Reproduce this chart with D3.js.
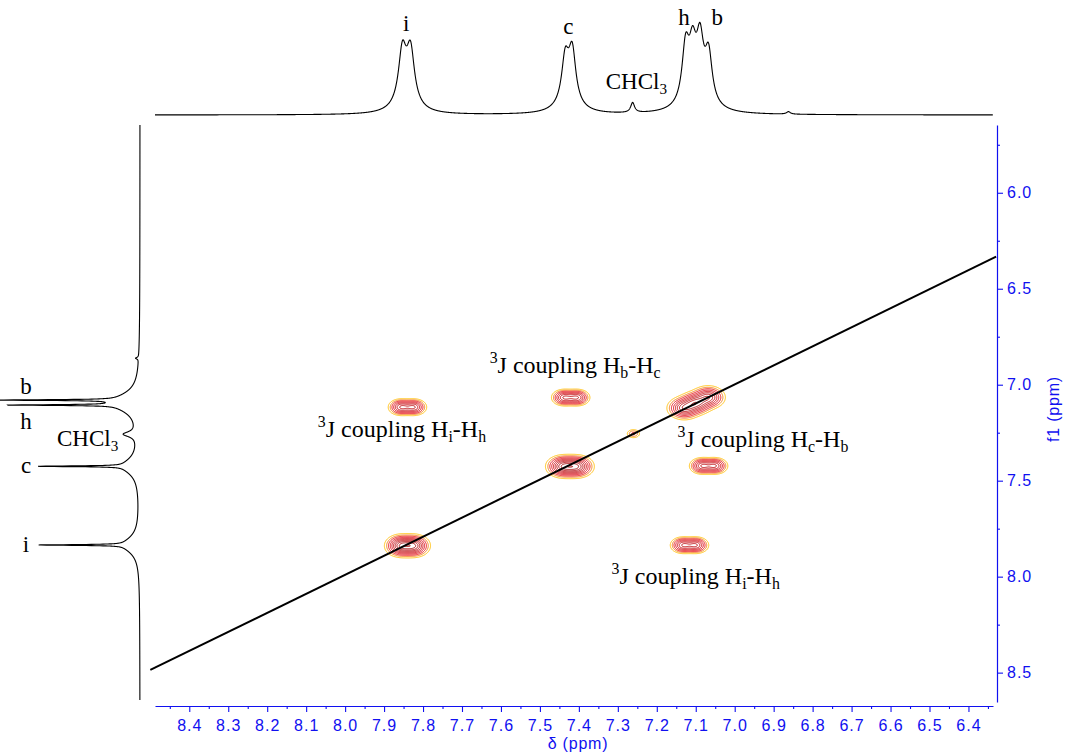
<!DOCTYPE html>
<html>
<head>
<meta charset="utf-8">
<script src="https://cdn.jsdelivr.net/npm/d3@7"></script>
<style>
  body { margin: 0; background: #fff; }
  svg { display: block; }
</style>
</head>
<body>
<svg id="chart" width="1065" height="756"></svg>
<script>
// ---- axis ranges and tick labels (ppm) ----
const f2Domain = [8.488, 6.337];
const f1Domain = [5.647, 8.653];
const f2Ticks = [8.4, 8.3, 8.2, 8.1, 8.0, 7.9, 7.8, 7.7, 7.6, 7.5, 7.4, 7.3, 7.2, 7.1, 7.0, 6.9, 6.8, 6.7, 6.6, 6.5, 6.4];
const f1Ticks = [6.0, 6.5, 7.0, 7.5, 8.0, 8.5];

// ---- 1D projection along f2 (top trace): [shift ppm, height, half-width ppm] ----
const topPeaks = [
  [7.853, 52, 0.012], [7.832, 52, 0.012], [7.843, 10, 0.035],   // i
  [7.435, 44, 0.011], [7.417, 51, 0.011], [7.426, 10, 0.035],   // c
  [7.262, 10, 0.006],                                           // CHCl3
  [7.126, 55, 0.011], [7.108, 46, 0.011],                       // h
  [7.089, 55, 0.011], [7.067, 48, 0.011], [7.097, 12, 0.04],    // b
  [6.862, 2.5, 0.006]
];

// ---- 1D projection along f1 (left trace): [shift ppm, height, half-width ppm] ----
const sidePeaks = [
  [7.835, 85, 0.0025], [7.835, 16, 0.05],              // i
  [7.425, 85, 0.0025], [7.425, 16, 0.05],              // c
  [7.258, 13, 0.016],                                  // CHCl3
  [7.106, 106, 0.0025], [7.106, 14, 0.05],             // h
  [7.080, 116, 0.0025], [7.080, 14, 0.05],             // b
  [6.862, 3, 0.005]
];

// ---- COSY multiplet components: [f2 ppm, f1 ppm, intensity, sigma f2, sigma f1] ----
const peaks2D = [
  // diagonal i
  [7.856, 7.829, 0.28, 0.017, 0.022], [7.824, 7.829, 0.28, 0.017, 0.022],
  [7.856, 7.849, 0.28, 0.017, 0.022], [7.824, 7.849, 0.28, 0.017, 0.022],
  // diagonal c
  [7.440, 7.416, 0.28, 0.018, 0.022], [7.406, 7.416, 0.28, 0.018, 0.022],
  [7.440, 7.436, 0.28, 0.018, 0.022], [7.406, 7.436, 0.28, 0.018, 0.022],
  // diagonal CHCl3
  [7.260, 7.255, 0.09, 0.009, 0.012],
  // diagonal h / b
  [7.130, 7.122, 0.40, 0.018, 0.025], [7.100, 7.096, 0.44, 0.018, 0.025], [7.068, 7.066, 0.40, 0.018, 0.025],
  // cross i-h
  [7.856, 7.108, 0.2, 0.014, 0.016], [7.824, 7.108, 0.2, 0.014, 0.016],
  [7.856, 7.126, 0.2, 0.014, 0.016], [7.824, 7.126, 0.2, 0.014, 0.016],
  // cross c-b
  [7.437, 7.058, 0.2, 0.014, 0.016], [7.405, 7.058, 0.2, 0.014, 0.016],
  [7.437, 7.076, 0.2, 0.014, 0.016], [7.405, 7.076, 0.2, 0.014, 0.016],
  // cross b-c
  [7.083, 7.414, 0.2, 0.014, 0.016], [7.051, 7.414, 0.2, 0.014, 0.016],
  [7.083, 7.432, 0.2, 0.014, 0.016], [7.051, 7.432, 0.2, 0.014, 0.016],
  // cross h-i
  [7.132, 7.827, 0.2, 0.014, 0.016], [7.100, 7.827, 0.2, 0.014, 0.016],
  [7.132, 7.845, 0.2, 0.014, 0.016], [7.100, 7.845, 0.2, 0.014, 0.016]
];
const contourLevels = [0.02, 0.045, 0.08, 0.13, 0.19, 0.26, 0.34, 0.43, 0.53, 0.64];

// diagonal reference line, [f2, f1] end points
const diagonalEnds = [[8.500, 8.486], [6.329, 6.333]];

// peak labels of the 1D traces
const topLabels = [
  { parts: [["i"]], f2: 7.843, anchor: "middle" },
  { parts: [["c"]], f2: 7.427, anchor: "middle" },
  { parts: [["CHCl"], ["3", "sub"]], f2: 7.331, anchor: "start" },
  { parts: [["h"]], f2: 7.130, anchor: "middle" },
  { parts: [["b"]], f2: 7.045, anchor: "middle" }
];
const sideLabels = [
  { parts: [["b"]], f1: 7.05 },
  { parts: [["h"]], f1: 7.23 },
  { parts: [["CHCl"], ["3", "sub"]], f1: 7.32 },
  { parts: [["c"]], f1: 7.46 },
  { parts: [["i"]], f1: 7.87 }
];
// coupling annotations, anchored at [f2, f1] ppm (text start, baseline)
const annotations = [
  { parts: [["3", "sup"], ["J coupling H"], ["b", "sub"], ["-H"], ["c", "sub"]], at: [7.629, 6.939] },
  { parts: [["3", "sup"], ["J coupling H"], ["i", "sub"], ["-H"], ["h", "sub"]], at: [8.070, 7.272] },
  { parts: [["3", "sup"], ["J coupling H"], ["c", "sub"], ["-H"], ["b", "sub"]], at: [7.147, 7.325] },
  { parts: [["3", "sup"], ["J coupling H"], ["i", "sub"], ["-H"], ["h", "sub"]], at: [7.316, 8.038] }
];

// ---------------------------------------------------------------
const svg = d3.select("#chart");
const blue = "#1010f0";
const serif = "'Liberation Serif', 'Times New Roman', serif";
const sans = "'Liberation Sans', Arial, sans-serif";

const x = d3.scaleLinear().domain(f2Domain).range([155, 993]);
const y = d3.scaleLinear().domain(f1Domain).range([125, 702]);

// intensity scales of the projections
const topI = d3.scaleLinear().domain([0, 100]).range([115, 15]);
const sideI = d3.scaleLinear().domain([0, 100]).range([140, 40]);

const lorentz = (peaks, v) => d3.sum(peaks, p => p[1] * p[2] * p[2] / ((v - p[0]) * (v - p[0]) + p[2] * p[2]));

// ---- top projection ----
const topPts = d3.range(f2Domain[0], f2Domain[1], -0.0005).map(v => [x(v), topI(lorentz(topPeaks, v))]);
svg.append("path")
  .attr("d", d3.line()(topPts))
  .attr("fill", "none").attr("stroke", "#000").attr("stroke-width", 1.1);

// ---- left projection ----
const sideRange = [y.invert(125), y.invert(700)];
const sidePts = d3.range(sideRange[0], sideRange[1], 0.0004).map(v => [sideI(lorentz(sidePeaks, v)), y(v)]);
svg.append("path")
  .attr("d", d3.line()(sidePts))
  .attr("fill", "none").attr("stroke", "#000").attr("stroke-width", 1.1);

// ---- contour map ----
const gridF2 = [6.9, 8.0], gridF1 = [6.9, 8.0];
const n2 = 800, n1 = 400;
const s2 = (gridF2[1] - gridF2[0]) / n2, s1 = (gridF1[1] - gridF1[0]) / n1;
const values = new Float64Array(n2 * n1);
for (let j = 0; j < n1; j++) {
  const fv1 = gridF1[0] + (j + 0.5) * s1;
  for (let i = 0; i < n2; i++) {
    const fv2 = gridF2[0] + (i + 0.5) * s2;
    let v = 0;
    for (const p of peaks2D) {
      const a = (fv2 - p[0]) / p[3], b = (fv1 - p[1]) / p[4];
      const e = 0.5 * (a * a + b * b);
      if (e < 14) v += p[2] * Math.exp(-e);
    }
    values[j * n2 + i] = v;
  }
}
const contours = d3.contours().size([n2, n1]).thresholds(contourLevels)(values);
const toPage = d3.geoTransform({
  point(px, py) { this.stream.point(x(gridF2[0] + px * s2), y(gridF1[0] + py * s1)); }
});
const contourPath = d3.geoPath(toPage);
function levelColor(i) {
  if (i === 0) return "#ffc20f";
  if (i === 1) return "#f5821f";
  const t = (i - 2) / (contourLevels.length - 3);
  return d3.interpolateRgb("#e8141e", "#a01010")(t);
}
svg.append("g").selectAll("path")
  .data(contours)
  .join("path")
  .attr("d", contourPath)
  .attr("fill", "none")
  .attr("stroke", (d, i) => levelColor(i))
  .attr("stroke-width", 1);

// ---- diagonal ----
svg.append("line")
  .attr("x1", x(diagonalEnds[0][0])).attr("y1", y(diagonalEnds[0][1]))
  .attr("x2", x(diagonalEnds[1][0])).attr("y2", y(diagonalEnds[1][1]))
  .attr("stroke", "#000").attr("stroke-width", 2);

// ---- axes ----
const xAxis = svg.append("g").attr("transform", "translate(0,706)");
xAxis.call(d3.axisBottom(x).tickValues(f2Ticks).tickSize(6).tickSizeOuter(0).tickPadding(8).tickFormat(d3.format(".1f")));
xAxis.append("g").call(d3.axisBottom(x).tickValues(d3.range(8.45, 6.34, -0.1)).tickSize(3).tickFormat(""))
  .select(".domain").remove();
const yAxis = svg.append("g").attr("transform", "translate(997,0)");
yAxis.call(d3.axisRight(y).tickValues(f1Ticks).tickSize(6).tickSizeOuter(0).tickPadding(4).tickFormat(d3.format(".1f")));
yAxis.append("g").call(d3.axisRight(y).tickValues(d3.range(5.75, 8.6, 0.5)).tickSize(3).tickFormat(""))
  .select(".domain").remove();
svg.selectAll(".domain").attr("stroke", blue).attr("stroke-width", 1.2);
svg.selectAll(".tick line").attr("stroke", blue).attr("stroke-width", 1.1);
svg.selectAll(".tick text")
  .attr("fill", blue)
  .style("font-family", sans).style("font-size", "16px").style("letter-spacing", "1px");

svg.append("text")
  .attr("x", 578).attr("y", 749).attr("text-anchor", "middle")
  .attr("fill", blue).style("font-family", sans).style("font-size", "16px").style("letter-spacing", "0.8px")
  .text("δ (ppm)");
svg.append("text")
  .attr("transform", "translate(1059,409) rotate(-90)").attr("text-anchor", "middle")
  .attr("fill", blue).style("font-family", sans).style("font-size", "16px").style("letter-spacing", "0.8px")
  .text("f1 (ppm)");

// ---- rich text helper (sub/superscripts) ----
function richText(sel, parts, size) {
  let shift = 0;
  parts.forEach(([t, kind]) => {
    const target = kind === "sup" ? -10 : kind === "sub" ? 5 : 0;
    sel.append("tspan")
      .attr("dy", target - shift)
      .style("font-size", kind ? (size * 0.66) + "px" : size + "px")
      .text(t);
    shift = target;
  });
}

const labelSize = 23;
topLabels.forEach(l => {
  const key = l.parts[0][0];
  const baseY = key === "CHCl" ? 89 : key === "i" ? 31 : key === "c" ? 34 : 25;
  const t = svg.append("text").attr("x", x(l.f2)).attr("y", baseY)
    .attr("text-anchor", l.anchor).style("font-family", serif).attr("fill", "#000");
  richText(t, l.parts, labelSize);
});
sideLabels.forEach(l => {
  const isSolvent = l.parts[0][0] === "CHCl";
  const t = svg.append("text").attr("x", isSolvent ? 57 : 26).attr("y", y(l.f1))
    .attr("text-anchor", isSolvent ? "start" : "middle").style("font-family", serif).attr("fill", "#000");
  richText(t, l.parts, labelSize);
});
annotations.forEach(a => {
  const t = svg.append("text").attr("x", x(a.at[0])).attr("y", y(a.at[1]))
    .style("font-family", serif).attr("fill", "#000");
  richText(t, a.parts, 24);
});
</script>
</body>
</html>
